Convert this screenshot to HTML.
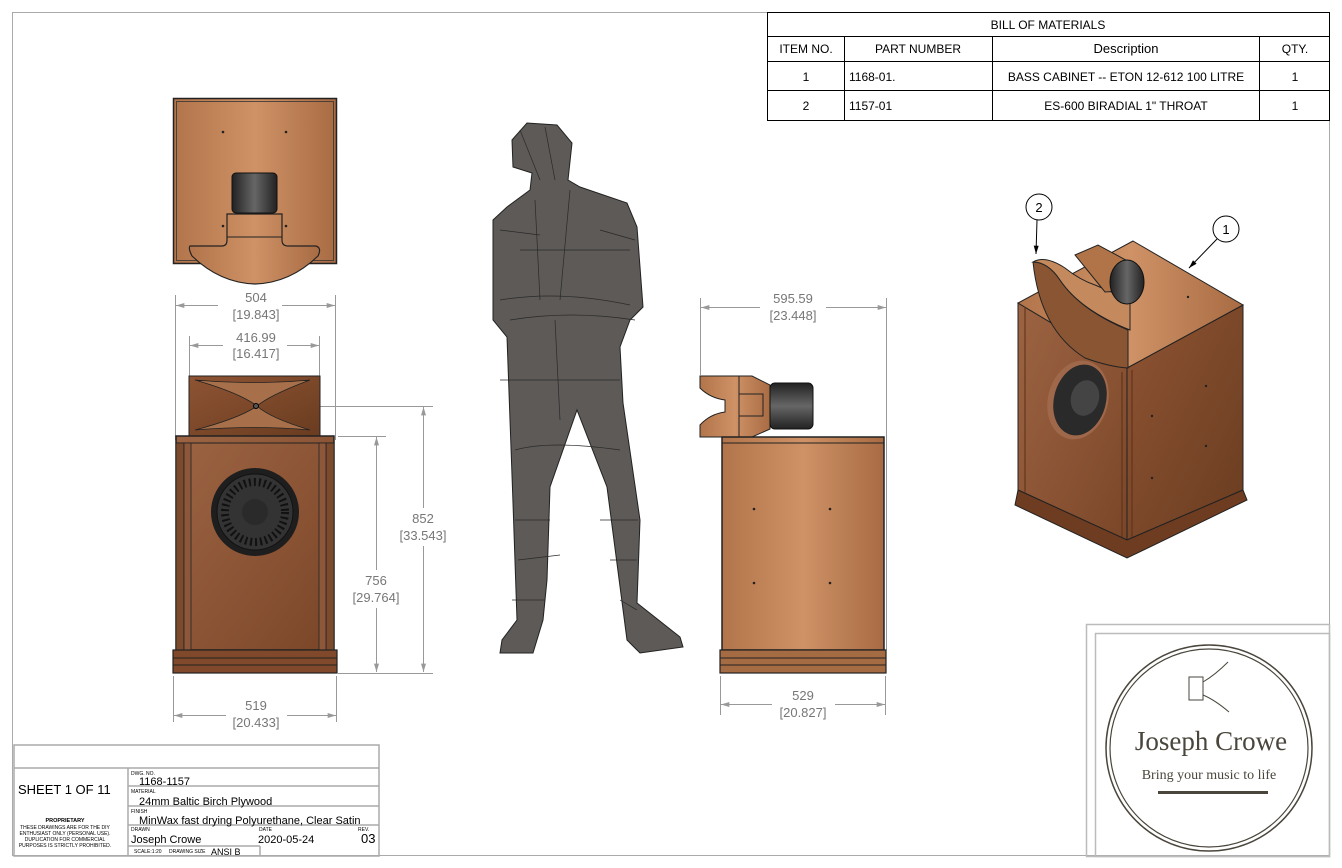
<!DOCTYPE html>
<html><head><meta charset="utf-8"><style>
body{margin:0;background:#fff;}
svg{display:block;font-family:"Liberation Sans",sans-serif;}
</style></head><body>
<svg width="1342" height="868" viewBox="0 0 1342 868" xmlns="http://www.w3.org/2000/svg">
<defs>
<linearGradient id="wood" x1="0" y1="0" x2="1" y2="1">
<stop offset="0" stop-color="#9c6442"/><stop offset="0.5" stop-color="#8c5536"/><stop offset="1" stop-color="#7a4628"/></linearGradient>
<linearGradient id="woodL" x1="0" y1="0" x2="1" y2="0">
<stop offset="0" stop-color="#b2744a"/><stop offset="0.5" stop-color="#cf9266"/><stop offset="1" stop-color="#a86b43"/></linearGradient>
<linearGradient id="woodD" x1="0" y1="0" x2="1" y2="1">
<stop offset="0" stop-color="#8e5433"/><stop offset="1" stop-color="#6a3c20"/></linearGradient>
<linearGradient id="drv" x1="0" y1="0" x2="1" y2="0">
<stop offset="0" stop-color="#222"/><stop offset="0.5" stop-color="#666"/><stop offset="1" stop-color="#222"/></linearGradient>
<linearGradient id="drvV" x1="0" y1="0" x2="0" y2="1">
<stop offset="0" stop-color="#222"/><stop offset="0.5" stop-color="#666"/><stop offset="1" stop-color="#222"/></linearGradient>
<marker id="ar" viewBox="0 0 10 6" refX="10" refY="3" markerWidth="12" markerHeight="5" orient="auto-start-reverse"><path d="M0,0L10,3L0,6z" fill="#999"/></marker>
<marker id="ab" viewBox="0 0 10 6" refX="10" refY="3" markerWidth="10" markerHeight="5" orient="auto"><path d="M0,0L10,3L0,6z" fill="#000"/></marker>
</defs>

<rect x="12.5" y="12.5" width="1317" height="843" fill="none" stroke="#aaa" stroke-width="1"/>

<!-- BOM -->
<g stroke="#000" stroke-width="1" fill="none">
<rect x="767.5" y="12.5" width="562" height="108"/>
<line x1="767" y1="36.5" x2="1330" y2="36.5"/>
<line x1="767" y1="61.5" x2="1330" y2="61.5"/>
<line x1="767" y1="90.5" x2="1330" y2="90.5"/>
<line x1="844.5" y1="36" x2="844.5" y2="121"/>
<line x1="992.5" y1="36" x2="992.5" y2="121"/>
<line x1="1259.5" y1="36" x2="1259.5" y2="121"/>
</g>
<g font-size="12" text-anchor="middle" fill="#000">
<text x="1048" y="29">BILL OF MATERIALS</text>
<text x="806" y="53">ITEM NO.</text>
<text x="918" y="53">PART NUMBER</text>
<text x="1126" y="53" font-size="13">Description</text>
<text x="1295" y="53">QTY.</text>
<text x="806" y="81">1</text>
<text x="1126" y="81">BASS CABINET  -- ETON 12-612 100 LITRE</text>
<text x="1295" y="81">1</text>
<text x="806" y="110">2</text>
<text x="1126" y="110">ES-600 BIRADIAL 1" THROAT</text>
<text x="1295" y="110">1</text>
</g>
<g font-size="12" fill="#000"><text x="849" y="81">1168-01.</text><text x="849" y="110">1157-01</text></g>

<!-- TOP VIEW -->
<rect x="173.5" y="98.5" width="163" height="165" fill="url(#woodL)" stroke="#222" stroke-width="1.5"/>
<rect x="176.5" y="101.5" width="157" height="159" fill="none" stroke="#333" stroke-width="0.8"/>
<path d="M190,246 L222,246 Q227,246 227,240 L227,214 L282,214 L282,240 Q282,246 288,246 L316,246 Q322,248 318,256 Q290,283 255,284 Q220,283 192,256 Q188,248 190,246z" fill="url(#woodL)" stroke="#222" stroke-width="1.2"/>
<line x1="227" y1="237" x2="282" y2="237" stroke="#222"/>
<rect x="232" y="173" width="45" height="40" rx="4" fill="url(#drv)" stroke="#111"/>
<g fill="#222"><circle cx="223" cy="132" r="1.3"/><circle cx="286" cy="132" r="1.3"/><circle cx="223" cy="226" r="1.3"/><circle cx="286" cy="226" r="1.3"/></g>

<!-- dims -->
<g stroke="#999" stroke-width="1" fill="none">
<line x1="175.5" y1="295" x2="175.5" y2="440"/><line x1="335.5" y1="295" x2="335.5" y2="440"/>
<line x1="176" y1="305.5" x2="218" y2="305.5" marker-start="url(#ar)"/><line x1="282" y1="305.5" x2="335" y2="305.5" marker-end="url(#ar)"/>
<line x1="189.5" y1="336" x2="189.5" y2="378"/><line x1="319.5" y1="336" x2="319.5" y2="378"/>
<line x1="190" y1="345.5" x2="223" y2="345.5" marker-start="url(#ar)"/><line x1="287" y1="345.5" x2="319" y2="345.5" marker-end="url(#ar)"/>
<line x1="258" y1="406.5" x2="433" y2="406.5"/>
<line x1="338" y1="436.5" x2="386" y2="436.5"/>
<line x1="338" y1="673.5" x2="433" y2="673.5"/>
<line x1="376.5" y1="437" x2="376.5" y2="570" marker-start="url(#ar)"/><line x1="376.5" y1="608" x2="376.5" y2="672" marker-end="url(#ar)"/>
<line x1="423.5" y1="407" x2="423.5" y2="508" marker-start="url(#ar)"/><line x1="423.5" y1="546" x2="423.5" y2="672" marker-end="url(#ar)"/>
<line x1="173.5" y1="676" x2="173.5" y2="722"/><line x1="336.5" y1="676" x2="336.5" y2="722"/>
<line x1="174" y1="715.5" x2="226" y2="715.5" marker-start="url(#ar)"/><line x1="287" y1="715.5" x2="336" y2="715.5" marker-end="url(#ar)"/>
<line x1="700.5" y1="298" x2="700.5" y2="375"/><line x1="886.5" y1="298" x2="886.5" y2="650"/>
<line x1="701" y1="307.5" x2="760" y2="307.5" marker-start="url(#ar)"/><line x1="826" y1="307.5" x2="886" y2="307.5" marker-end="url(#ar)"/>
<line x1="720.5" y1="676" x2="720.5" y2="715"/><line x1="885.5" y1="676" x2="885.5" y2="715"/>
<line x1="721" y1="704.5" x2="772" y2="704.5" marker-start="url(#ar)"/><line x1="835" y1="704.5" x2="885" y2="704.5" marker-end="url(#ar)"/>
</g>
<g font-size="13" fill="#777" text-anchor="middle">
<text x="256" y="302">504</text><text x="256" y="319">[19.843]</text>
<text x="256" y="342">416.99</text><text x="256" y="358">[16.417]</text>
<text x="423" y="523">852</text><text x="423" y="540">[33.543]</text>
<text x="376" y="585">756</text><text x="376" y="602">[29.764]</text>
<text x="256" y="710">519</text><text x="256" y="727">[20.433]</text>
<text x="793" y="303">595.59</text><text x="793" y="320">[23.448]</text>
<text x="803" y="700">529</text><text x="803" y="717">[20.827]</text>
</g>

<!-- FRONT VIEW -->
<rect x="189" y="376" width="131" height="60" fill="url(#woodD)" stroke="#222"/>
<path d="M195,380 Q255,385 310,380 Q270,395 257,406 Q240,393 195,380z" fill="#a8704a" stroke="#222" stroke-width="0.8"/>
<path d="M195,430 Q255,425 310,430 Q270,418 257,406 Q240,418 195,430z" fill="#a8704a" stroke="#222" stroke-width="0.8"/>
<circle cx="256" cy="406" r="2.5" fill="#555" stroke="#000"/>
<rect x="176" y="436" width="158" height="214" fill="url(#wood)" stroke="#222" stroke-width="1.5"/>
<line x1="176" y1="443" x2="334" y2="443" stroke="#222"/>
<rect x="176" y="443" width="8" height="207" fill="#7c4a2c" stroke="#222" stroke-width="0.8"/>
<rect x="184" y="443" width="7" height="207" fill="#8d573a" stroke="#222" stroke-width="0.8"/>
<rect x="326" y="443" width="8" height="207" fill="#7c4a2c" stroke="#222" stroke-width="0.8"/>
<rect x="319" y="443" width="7" height="207" fill="#8d573a" stroke="#222" stroke-width="0.8"/>
<rect x="173" y="650" width="164" height="23" fill="#80492b" stroke="#222" stroke-width="1.2"/>
<line x1="173" y1="658" x2="337" y2="658" stroke="#222"/><line x1="173" y1="665" x2="337" y2="665" stroke="#222"/>
<circle cx="255" cy="512" r="44" fill="#1e1e1e"/><circle cx="255" cy="512" r="38" fill="#333" stroke="#111"/>
<circle cx="255" cy="512" r="30" fill="none" stroke="#111" stroke-width="8" stroke-dasharray="2 3"/>
<circle cx="255" cy="512" r="13" fill="#2a2a2a"/>

<!-- HUMAN -->
<path d="M512,140 L527,123 L557,125 L572,143 L568,180 L580,187 L627,203 L637,227 L643,307 L630,320 L620,347 L623,403 L640,520 L637,603 L680,637 L683,647 L640,653 L627,640 L607,487 L577,410 L550,487 L547,580 L543,620 L533,653 L500,653 L502,640 L517,620 L513,503 L510,420 L507,337 L493,320 L493,220 L507,207 L530,190 L532,173 L513,167z" fill="#5d5a57" stroke="#222" stroke-width="1"/>
<g stroke="#2a2a2a" stroke-width="0.7" fill="none">
<path d="M500,300 Q560,290 630,305"/><path d="M510,320 Q570,310 635,320"/><path d="M535,200 L540,300"/><path d="M570,190 L560,300"/><path d="M555,320 L560,420"/><path d="M515,450 Q550,440 620,450"/><path d="M518,560 L560,555"/><path d="M610,560 L637,560"/><path d="M520,250 L630,250"/><path d="M520,130 L540,180"/><path d="M545,127 L555,180"/><path d="M512,600 L545,600"/><path d="M620,600 L637,610"/>
<path d="M500,230 L540,235"/><path d="M600,230 L635,240"/><path d="M500,380 L620,380"/><path d="M515,520 L550,520"/><path d="M600,520 L638,520"/>
</g>

<!-- SIDE VIEW -->
<path d="M700,376 L752,376 L770,385 L770,429 L752,437 L700,437 L700,425 Q710,414 725,412 L725,400 Q710,398 700,388z" fill="url(#woodL)" stroke="#222"/>
<line x1="739" y1="376" x2="739" y2="437" stroke="#222"/>
<rect x="739" y="394" width="24" height="22" fill="none" stroke="#222"/>
<rect x="770" y="383" width="43" height="46" rx="5" fill="url(#drvV)" stroke="#111"/>
<rect x="722" y="437" width="162" height="213" fill="url(#woodL)" stroke="#222" stroke-width="1.5"/>
<line x1="722" y1="443" x2="884" y2="443" stroke="#222"/>
<rect x="720" y="650" width="166" height="23" fill="#a56b43" stroke="#222" stroke-width="1.2"/>
<line x1="720" y1="658" x2="886" y2="658" stroke="#222"/><line x1="720" y1="665" x2="886" y2="665" stroke="#222"/>
<g fill="#222"><circle cx="754" cy="509" r="1.3"/><circle cx="830" cy="509" r="1.3"/><circle cx="754" cy="583" r="1.3"/><circle cx="830" cy="583" r="1.3"/></g>

<!-- ISO VIEW -->
<polygon points="1018,303 1127,368 1127,540 1018,490" fill="url(#wood)" stroke="#222"/>
<polygon points="1127,368 1243,305 1243,490 1127,540" fill="url(#woodD)" stroke="#222"/>
<polygon points="1133,241 1243,305 1127,368 1018,303" fill="url(#woodL)" stroke="#222"/>
<polygon points="1018,490 1127,540 1243,490 1247,500 1127,558 1015,505" fill="#6e3c20" stroke="#222"/>
<line x1="1025" y1="307" x2="1025" y2="493" stroke="#5a3018"/>
<line x1="1122" y1="372" x2="1122" y2="537" stroke="#5a3018"/>
<line x1="1132" y1="370" x2="1132" y2="537" stroke="#5a3018"/>
<ellipse cx="1078" cy="400" rx="30" ry="40" transform="rotate(15 1078 400)" fill="#a0684a"/>
<ellipse cx="1080" cy="400" rx="26" ry="36" transform="rotate(15 1080 400)" fill="#2a2a2a"/>
<ellipse cx="1085" cy="398" rx="14" ry="18" transform="rotate(15 1085 398)" fill="#444"/>
<!-- horn -->
<path d="M1033,262 Q1040,330 1085,358 Q1110,367 1128,368 L1128,330 Q1080,310 1060,280 Q1048,262 1033,262z" fill="#8a5533" stroke="#222"/>
<path d="M1033,262 Q1045,255 1065,268 Q1080,280 1095,285 L1130,300 L1130,330 Q1080,310 1060,280 Q1048,262 1033,262z" fill="#c48a5e" stroke="#222"/>
<path d="M1075,255 L1098,245 L1135,265 L1135,290 L1105,292z" fill="#b07448" stroke="#222"/>
<ellipse cx="1127" cy="282" rx="17" ry="22" fill="url(#drv)" stroke="#111"/>
<g fill="#222"><circle cx="1188" cy="297" r="1.2"/><circle cx="1206" cy="386" r="1.2"/><circle cx="1152" cy="416" r="1.2"/><circle cx="1206" cy="446" r="1.2"/><circle cx="1152" cy="478" r="1.2"/></g>
<circle cx="1039" cy="207" r="13" fill="#fff" stroke="#000"/><text x="1039" y="212" font-size="13" text-anchor="middle">2</text>
<line x1="1037" y1="220" x2="1036" y2="254" stroke="#000" marker-end="url(#ab)"/>
<circle cx="1226" cy="229" r="13" fill="#fff" stroke="#000"/><text x="1226" y="234" font-size="13" text-anchor="middle">1</text>
<line x1="1217" y1="239" x2="1189" y2="268" stroke="#000" marker-end="url(#ab)"/>

<!-- TITLE BLOCK -->
<g stroke="#aaa" stroke-width="1.5" fill="none">
<rect x="14" y="745" width="365" height="111"/>
<line x1="14" y1="768" x2="379" y2="768"/>
<line x1="128" y1="768" x2="128" y2="856"/>
<line x1="128" y1="786" x2="379" y2="786"/>
<line x1="128" y1="806" x2="379" y2="806"/>
<line x1="128" y1="825" x2="379" y2="825"/>
<line x1="128" y1="846" x2="260" y2="846"/>
<line x1="260" y1="846" x2="260" y2="856"/>
</g>
<text x="18" y="794" font-size="13">SHEET 1 OF 11</text>
<g font-size="5" fill="#000"><text x="131" y="775">DWG. NO.</text><text x="131" y="793">MATERIAL</text><text x="131" y="813">FINISH</text><text x="131" y="831">DRAWN</text><text x="259" y="831">DATE</text><text x="358" y="831">REV.</text><text x="134" y="853">SCALE:1:20</text><text x="169" y="853">DRAWING SIZE</text></g>
<g font-size="11" fill="#000"><text x="139" y="785">1168-1157</text><text x="139" y="805">24mm Baltic Birch Plywood</text><text x="139" y="824">MinWax fast drying Polyurethane, Clear Satin</text><text x="131" y="843">Joseph Crowe</text><text x="258" y="843">2020-05-24</text><text x="361" y="843" font-size="13">03</text><text x="211" y="855" font-size="9">ANSI B</text></g>
<g font-size="5.5" fill="#000" text-anchor="middle" font-weight="bold"><text x="65" y="822">PROPRIETARY</text></g>
<g font-size="5" fill="#000" text-anchor="middle"><text x="65" y="829">THESE DRAWINGS ARE FOR THE DIY</text><text x="65" y="835">ENTHUSIAST ONLY (PERSONAL USE).</text><text x="65" y="841">DUPLICATION FOR COMMERCIAL</text><text x="65" y="847">PURPOSES IS STRICTLY PROHIBITED.</text></g>

<!-- LOGO -->
<rect x="1086.5" y="624.5" width="243" height="232" fill="none" stroke="#bbb" stroke-width="1.5"/>
<rect x="1095.5" y="633.5" width="234" height="223" fill="none" stroke="#bbb" stroke-width="1.5"/>
<circle cx="1209" cy="748" r="103" fill="none" stroke="#4a463c" stroke-width="1.5"/>
<circle cx="1209" cy="748" r="99" fill="none" stroke="#4a463c" stroke-width="1.2"/>
<rect x="1189" y="677" width="14" height="23" fill="none" stroke="#4a463c"/>
<path d="M1203,682 Q1215,675 1228,662 M1203,695 Q1215,700 1229,712" fill="none" stroke="#4a463c"/>
<text x="1211" y="750" font-family="Liberation Serif,serif" font-size="27" fill="#4a463c" text-anchor="middle">Joseph Crowe</text>
<text x="1209" y="779" font-family="Liberation Serif,serif" font-size="14" fill="#4a463c" text-anchor="middle">Bring your music to life</text>
<rect x="1158" y="791" width="110" height="3" fill="#4a463c"/>
</svg>
</body></html>
